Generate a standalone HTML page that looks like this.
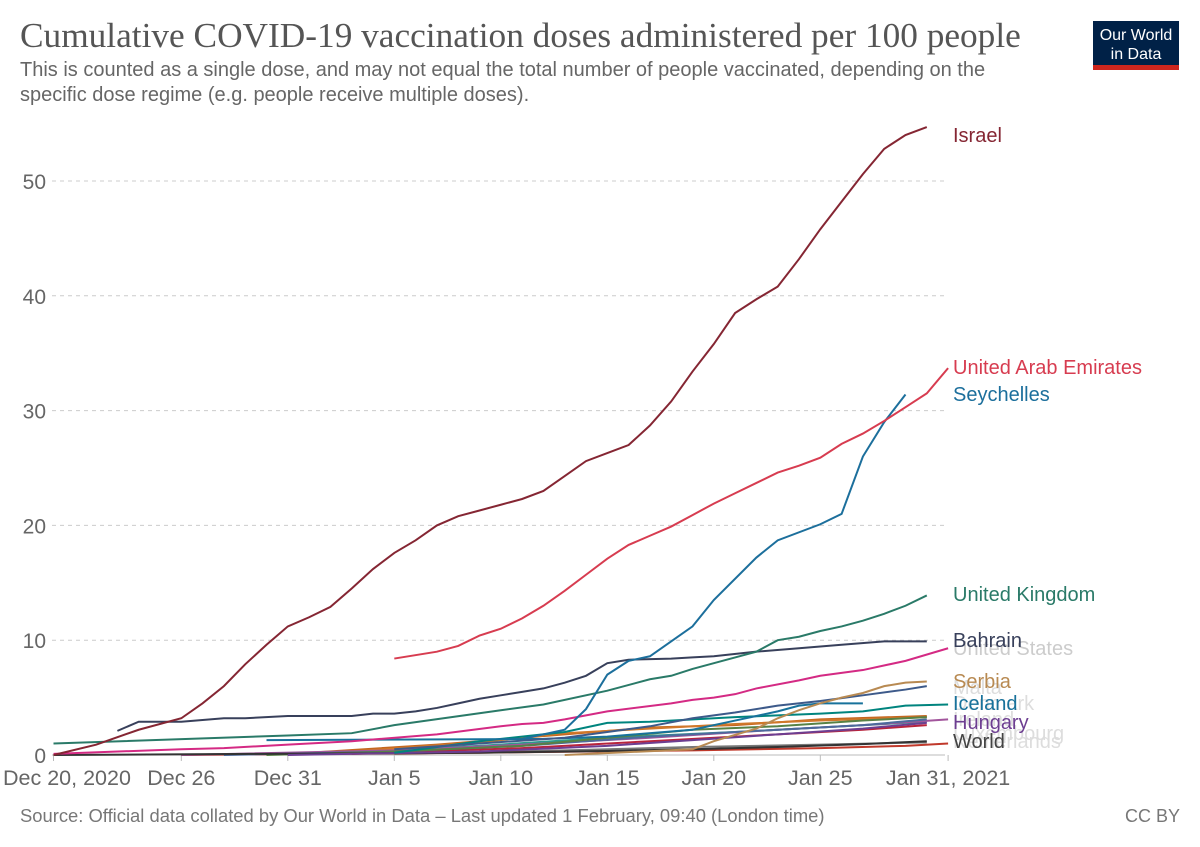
<!DOCTYPE html>
<html><head><meta charset="utf-8"><style>
body{margin:0;background:#fff;width:1200px;height:847px;overflow:hidden;font-family:"Liberation Sans",sans-serif}
svg{position:absolute;left:0;top:0}
</style></head><body>
<svg width="1200" height="847">
<text x="20" y="47" font-family="Liberation Serif,serif" font-size="35.3" fill="#555">Cumulative COVID-19 vaccination doses administered per 100 people</text>
<text x="20" y="76" font-size="20" fill="#666">This is counted as a single dose, and may not equal the total number of people vaccinated, depending on the</text>
<text x="20" y="101" font-size="20" fill="#666">specific dose regime (e.g. people receive multiple doses).</text>
<g>
<rect x="1093" y="21" width="86" height="49" fill="#002147"/>
<rect x="1093" y="65" width="86" height="5" fill="#ce261e"/>
<text x="1136" y="40" font-size="16" fill="#fff" text-anchor="middle">Our World</text>
<text x="1136" y="59" font-size="16" fill="#fff" text-anchor="middle">in Data</text>
</g>
<g id="grid"></g>
<g id="series"></g>
<g id="labels"></g>
<text x="20" y="822" font-size="18.4" fill="#777">Source: Official data collated by Our World in Data – Last updated 1 February, 09:40 (London time)</text>
<text x="1180" y="822" font-size="18" fill="#777" text-anchor="end">CC BY</text>
</svg>
<script>
const yTicks=[0,10,20,30,40,50];
const xTickDays=[0,6,11,16,21,26,31,36,42];
const xTickLabels=["Dec 20, 2020","Dec 26","Dec 31","Jan 5","Jan 10","Jan 15","Jan 20","Jan 25","Jan 31, 2021"];
const israelDays=[0,2,4,6,7,8,9,10,11,12,13,14,15,16,17,18,19,20,21,22,23,24,25,26,27,28,29,30,31,32,33,34,35,36,37,38,39,40,41];
const israelVals=[0,0.9,2.2,3.2,4.5,6,7.9,9.6,11.2,12,12.9,14.5,16.2,17.6,18.7,20,20.8,21.3,21.8,22.3,23,24.3,25.6,26.3,27,28.7,30.8,33.4,35.8,38.5,39.7,40.8,43.2,45.8,48.2,50.6,52.8,54,54.7];
const uaeDays=[16,18,19,20,21,22,23,24,25,26,27,28,29,30,31,32,33,34,35,36,37,38,39,40,41,42];
const uaeVals=[8.4,9,9.5,10.4,11,11.9,13,14.3,15.7,17.1,18.3,19.1,19.9,20.9,21.9,22.8,23.7,24.6,25.2,25.9,27.1,28,29.1,30.3,31.5,33.7];
const seyDays=[22,24,25,26,27,28,30,31,33,34,36,37,38,39,40];
const seyVals=[1.4,2.2,4,7,8.2,8.6,11.2,13.5,17.2,18.7,20.1,21,26,29,31.4];
const ukDays=[0,11,14,16,21,23,26,28,29,30,31,33,34,35,36,37,38,39,40,41];
const ukVals=[1.0,1.7,1.9,2.6,3.9,4.4,5.6,6.6,6.9,7.5,8,9,10,10.3,10.8,11.2,11.7,12.3,13,13.9];
const bahDays=[3,4,6,8,9,11,14,15,16,17,18,19,20,21,22,23,24,25,26,27,29,30,31,33,35,37,39,41];
const bahVals=[2.1,2.9,2.9,3.2,3.2,3.4,3.4,3.6,3.6,3.8,4.1,4.5,4.9,5.2,5.5,5.8,6.3,6.9,8,8.3,8.4,8.5,8.6,9,9.3,9.6,9.9,9.9];
const usDays=[0,6,8,11,14,18,21,22,23,24,26,29,30,31,32,33,35,36,38,40,42];
const usVals=[0.1,0.5,0.6,0.9,1.2,1.8,2.5,2.7,2.8,3.1,3.8,4.5,4.8,5,5.3,5.8,6.5,6.9,7.4,8.2,9.3];
const serDays=[24,30,31,33,34,35,36,37,38,39,40,41];
const serVals=[0,0.5,1.2,2.3,3.2,3.9,4.5,5,5.4,6,6.3,6.4];
const maltaDays=[16,24,28,30,32,34,36,38,40,41];
const maltaVals=[0.5,1.5,2.5,3.2,3.7,4.3,4.7,5.2,5.7,6.0];
const iceDays=[10,23,26,30,32,34,35,36,38];
const iceVals=[1.3,1.4,1.6,2.2,3,3.8,4.3,4.5,4.5];
const denDays=[16,20,24,26,28,32,36,38,40,42];
const denVals=[0.2,1.2,2.0,2.8,2.9,3.3,3.6,3.8,4.3,4.4];
const hunDays=[11,20,26,30,34,38,41];
const hunVals=[0,0.3,0.8,1.3,1.8,2.3,2.8];
const worldDays=[0,10,20,26,30,34,38,41];
const worldVals=[0,0.1,0.2,0.35,0.5,0.7,0.95,1.2];
const irlDays=[10,16,22,26,30,34,38,41];
const irlVals=[0,0.3,0.8,1.5,2.2,2.5,3,3.3];
const luxDays=[8,16,22,28,34,38,41];
const luxVals=[0,0.3,0.8,1.6,2.2,2.6,3.1];
const polDays=[6,16,22,28,34,38,42];
const polVals=[0,0.4,0.9,1.5,2.2,2.6,3.1];
const redDays=[6,20,30,36,40,42];
const redVals=[0,0.2,0.4,0.6,0.8,1.0];
const orgDays=[12,18,24,28,32,36,41];
const orgVals=[0.2,0.9,1.8,2.4,2.6,3.1,3.4];
const org2Days=[14,20,24,28,32,36,41];
const org2Vals=[0.3,1.1,1.9,2.3,2.7,3.0,3.3];
const crimDays=[14,22,28,34,38,41];
const crimVals=[0.1,0.6,1.2,1.8,2.2,2.6];
const tealDays=[12,20,26,32,36,41];
const tealVals=[0.2,0.8,1.5,2.0,2.4,2.9];
const greyDays=[16,24,30,36,41];
const greyVals=[0.1,0.4,0.7,0.9,1.1];
const x=d=>53.5+d*21.3;
const y=v=>755-v*11.48;
const NS="http://www.w3.org/2000/svg";
const grid=document.getElementById('grid');
yTicks.forEach(t=>{
 const l=document.createElementNS(NS,'line');
 l.setAttribute('x1',52);l.setAttribute('x2',945);l.setAttribute('y1',y(t));l.setAttribute('y2',y(t));
 l.setAttribute('stroke',t===0?'#bbb':'#ccc');
 if(t!==0)l.setAttribute('stroke-dasharray','4,4');
 
 
 grid.appendChild(l);
 const tx=document.createElementNS(NS,'text');
 tx.setAttribute('x',46);tx.setAttribute('y',y(t)+8);tx.setAttribute('text-anchor','end');
 tx.setAttribute('font-size','21');tx.setAttribute('fill','#666');tx.textContent=t;
 
 
 grid.appendChild(tx);
});
xTickDays.forEach((d,i)=>{
 const l=document.createElementNS(NS,'line');
 l.setAttribute('x1',x(d));l.setAttribute('x2',x(d));l.setAttribute('y1',755);l.setAttribute('y2',761);l.setAttribute('stroke','#bbb');
 
 
 grid.appendChild(l);
 const tx=document.createElementNS(NS,'text');
 let cx=x(d);
 tx.setAttribute('x',i===0?3:cx);tx.setAttribute('y',785);
 tx.setAttribute('text-anchor',i===0?'start':'middle');
 tx.setAttribute('font-size','21.5');tx.setAttribute('fill','#666');tx.textContent=xTickLabels[i];
 
 
 grid.appendChild(tx);
});
const series=[
 [greyDays,greyVals,'#777','grey-series'],
 [redDays,redVals,'#c0392b','red-series'],
 [crimDays,crimVals,'#b8243c','crimson-series'],
 [tealDays,tealVals,'#2b9a8c','teal-series'],
 [orgDays,orgVals,'#c4661f','orange-series'],
 [org2Days,org2Vals,'#d0782a','orange2-series'],
 [polDays,polVals,'#a2559c','poland-series'],
 [luxDays,luxVals,'#4c6a9c','luxembourg-series'],
 [irlDays,irlVals,'#578145','ireland-series'],
 [worldDays,worldVals,'#333','world-series'],
 [hunDays,hunVals,'#6d3e91','hungary-series'],
 [denDays,denVals,'#00847e','denmark-series'],
 [iceDays,iceVals,'#18729b','iceland-series'],
 [maltaDays,maltaVals,'#3d5a8a','malta-series'],
 [serDays,serVals,'#b88a52','serbia-series'],
 [usDays,usVals,'#d42a84','united-states-series'],
 [bahDays,bahVals,'#38405b','bahrain-series'],
 [ukDays,ukVals,'#2a7a68','united-kingdom-series'],
 [seyDays,seyVals,'#1c6f9c','seychelles-series'],
 [uaeDays,uaeVals,'#d73c50','uae-series'],
 [israelDays,israelVals,'#852633','israel-series']
];
const sg=document.getElementById('series');
series.forEach(s=>{
 const p=document.createElementNS(NS,'polyline');
 p.setAttribute('points',s[0].map((d,i)=>x(d)+','+y(s[1][i])).join(' '));
 p.setAttribute('fill','none');p.setAttribute('stroke',s[2]);p.setAttribute('stroke-width','2');
 
 
 sg.appendChild(p);
});
const labels=[
 ['Luxembourg',740,'#ddd'],['Netherlands',748,'#ddd'],['Ireland',726,'#ddd'],['Denmark',710,'#ddd'],['Malta',694,'#ddd'],['United States',655,'#ccc'],
 ['Israel',142,'#852633'],['United Arab Emirates',374,'#d73c50'],['Seychelles',401,'#1c6f9c'],['United Kingdom',601,'#2a7a68'],
 ['Bahrain',647,'#38405b'],['Serbia',688,'#b88a52'],['Iceland',710,'#18729b'],['Hungary',729,'#6d3e91'],['World',748,'#444']
];
const lg=document.getElementById('labels');
labels.forEach(l=>{
 const t=document.createElementNS(NS,'text');
 t.setAttribute('x',953);t.setAttribute('y',l[1]);t.setAttribute('font-size','20');t.setAttribute('fill',l[2]);
 t.textContent=l[0];
 
 
 lg.appendChild(t);
});
</script>
</body></html>
